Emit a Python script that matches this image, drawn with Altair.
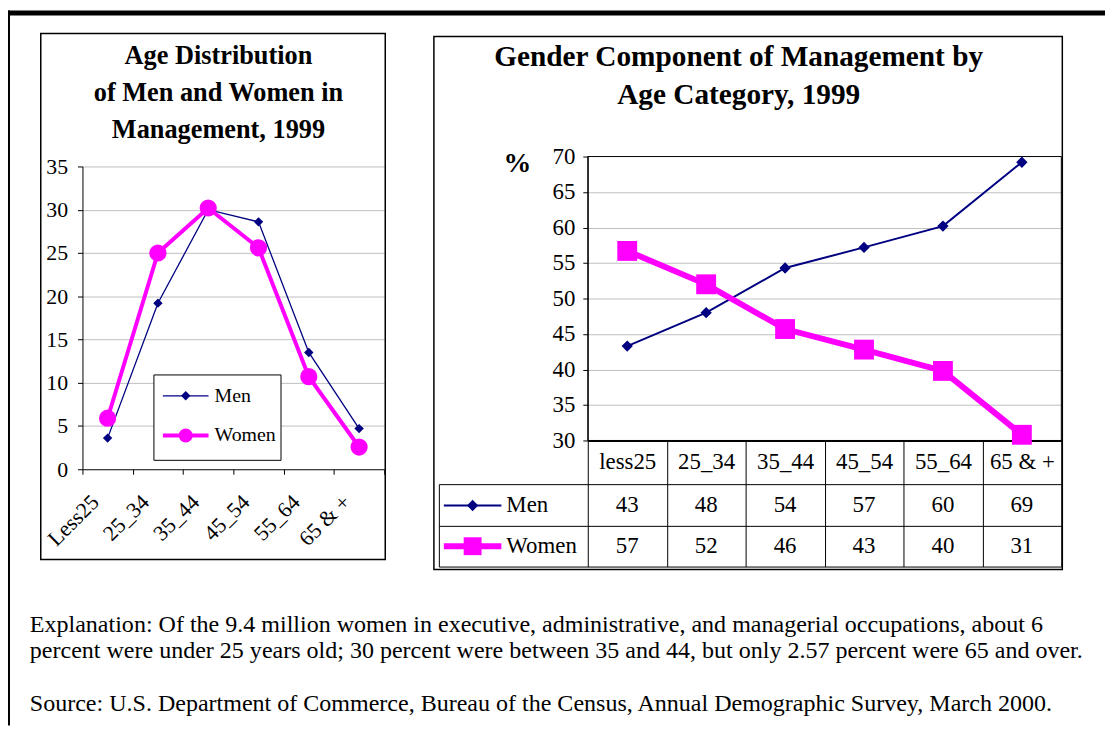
import altair as alt
import pandas as pd

# ---------------- data ----------------
left_cats = ["Less25", "25_34", "35_44", "45_54", "55_64", "65 & +"]
left_men = [3.6, 19.2, 30.0, 28.6, 13.5, 4.7]
left_women = [5.9, 25.0, 30.2, 25.6, 10.7, 2.57]
left_ticks = [0, 5, 10, 15, 20, 25, 30, 35]

right_cats = ["less25", "25_34", "35_44", "45_54", "55_64", "65 & +"]
right_men = [43.3, 48.0, 54.3, 57.2, 60.2, 69.2]
right_women = [56.7, 52.0, 45.7, 42.8, 39.8, 30.8]
right_ticks = [30, 35, 40, 45, 50, 55, 60, 65, 70]

series = ["Men", "Women"]
series_colors = ["#000080", "#FF00FF"]

left_title = ["Age Distribution", "of Men and Women in", "Management, 1999"]
right_title = ["Gender Component of Management by", "Age Category, 1999"]
y_unit = "%"
explanation = [
    "Explanation: Of the 9.4 million women in executive, administrative, and managerial occupations, about 6",
    "percent were under 25 years old; 30 percent were between 35 and 44, but only 2.57 percent were 65 and over.",
]
source = ["Source: U.S. Department of Commerce, Bureau of the Census, Annual Demographic Survey, March 2000."]

# ---------------- tables ----------------
n = len(left_cats)
left_df = pd.DataFrame({
    "series": ["Men"] * n + ["Women"] * n,
    "cat": left_cats * 2,
    "idx": list(range(n)) * 2,
    "value": left_men + left_women,
})
right_df = pd.DataFrame({
    "series": ["Men"] * n + ["Women"] * n,
    "cat": right_cats * 2,
    "idx": list(range(n)) * 2,
    "value": right_men + right_women,
})
ser_df = pd.DataFrame({"series": series})
one = pd.DataFrame({"k": [0]})
lt_df = pd.DataFrame({"v": left_ticks})
rt_df = pd.DataFrame({"v": right_ticks})

W, H = 1105, 720
SERIF = "Liberation Serif"
GRID = "#c0c0c0"


def lx():
    return alt.Scale(type="band", domain=left_cats, range=[75, 379], paddingInner=0, paddingOuter=0)


def ly():
    return alt.Scale(domain=[0, 35], range=[462, 157], nice=False, zero=False)


def rx():
    return alt.Scale(type="band", domain=right_cats, range=[584, 1061], paddingInner=0, paddingOuter=0)


def ry():
    return alt.Scale(domain=[30, 70], range=[433, 147], nice=False, zero=False)


def color():
    return alt.Color("series:N", scale=alt.Scale(domain=series, range=series_colors), legend=None)


def box(x1, x2, y1, y2, sw=1.5, fill=None):
    if fill:
        m = alt.Chart(one).mark_rect(fill=fill, stroke="black", strokeWidth=sw)
    else:
        m = alt.Chart(one).mark_rect(fillOpacity=0, stroke="black", strokeWidth=sw)
    return m.encode(x=alt.value(x1), x2=alt.value(x2), y=alt.value(y1), y2=alt.value(y2))


# ---------------- frame ----------------
top_bar = alt.Chart(one).mark_rect(color="black").encode(
    x=alt.value(0), x2=alt.value(W), y=alt.value(0), y2=alt.value(5))
left_bar = alt.Chart(one).mark_rect(color="black").encode(
    x=alt.value(0), x2=alt.value(2), y=alt.value(0), y2=alt.value(H))
left_box = box(33, 380, 23, 553, 1.5)
right_box = box(429, 1062, 26, 563, 1.5)

# ---------------- left chart ----------------
left_grid = alt.Chart(lt_df).mark_point(opacity=0).encode(
    y=alt.Y("v:Q", scale=ly(), axis=alt.Axis(
        orient="right", offset=75 - W, values=left_ticks[1:], tickSize=304,
        tickColor=GRID, tickWidth=1, labels=False, domain=False, grid=False, title=None)))

left_axis_x = alt.Axis(
    orient="bottom", offset=462 - H, tickBand="extent", tickSize=5, tickColor="black",
    domainColor="black", labelAngle=315, labelAlign="right", labelBaseline="middle",
    labelOffset=-13, labelPadding=24, labelFont=SERIF, labelFontSize=22,
    labelColor="black", grid=False, title=None, labelOverlap=False)
left_axis_y = alt.Axis(
    orient="left", offset=-75, values=left_ticks, tickSize=5, tickColor="black",
    domainColor="black", labelFont=SERIF, labelFontSize=22, labelColor="black",
    labelPadding=10, grid=False, title=None)

left_line = alt.Chart(left_df).mark_line().encode(
    x=alt.X("cat:N", scale=lx(), axis=left_axis_x),
    y=alt.Y("value:Q", scale=ly(), axis=left_axis_y),
    color=color(),
    strokeWidth=alt.StrokeWidth("series:N", scale=alt.Scale(domain=series, range=[1.3, 4]), legend=None),
    order=alt.Order("idx:Q"),
)
left_pts = alt.Chart(left_df).mark_point(filled=True, opacity=1).encode(
    x=alt.X("cat:N", scale=lx(), axis=None),
    y=alt.Y("value:Q", scale=ly(), axis=None),
    color=color(),
    shape=alt.Shape("series:N", scale=alt.Scale(domain=series, range=["diamond", "circle"]), legend=None),
    size=alt.Size("series:N", scale=alt.Scale(domain=series, range=[90, 300]), legend=None),
)

leg_y = alt.Y("series:N", scale=alt.Scale(type="point", domain=series, range=[388, 428], padding=0), axis=None)
leg_box = box(147, 275, 367, 453, 1, fill="white")
leg_line = alt.Chart(ser_df).mark_rule().encode(
    x=alt.value(156), x2=alt.value(202), y=leg_y, color=color(),
    strokeWidth=alt.StrokeWidth("series:N", scale=alt.Scale(domain=series, range=[1.3, 4]), legend=None))
leg_pts = alt.Chart(ser_df).mark_point(filled=True, opacity=1).encode(
    x=alt.value(179), y=leg_y, color=color(),
    shape=alt.Shape("series:N", scale=alt.Scale(domain=series, range=["diamond", "circle"]), legend=None),
    size=alt.Size("series:N", scale=alt.Scale(domain=series, range=[90, 200]), legend=None))
leg_text = alt.Chart(ser_df).mark_text(
    align="left", baseline="middle", font=SERIF, fontSize=20, color="black").encode(
    x=alt.value(208), y=leg_y, text="series:N")

left_title_mark = alt.Chart(one).mark_text(
    text=left_title, font=SERIF, fontSize=26.5, fontWeight="bold", align="center",
    baseline="alphabetic", lineHeight=37, color="black").encode(x=alt.value(212), y=alt.value(54))

# ---------------- right chart ----------------
right_grid = alt.Chart(rt_df).mark_point(opacity=0).encode(
    y=alt.Y("v:Q", scale=ry(), axis=alt.Axis(
        orient="right", offset=584 - W, values=right_ticks[1:-1], tickSize=477,
        tickColor=GRID, tickWidth=1, labels=False, domain=False, grid=False, title=None)))
plot_frame = box(584, 1061, 147, 433, 1)

right_axis_x = alt.Axis(
    orient="bottom", offset=433 - H, tickBand="extent", tickSize=127, tickColor="black",
    tickWidth=1, domainColor="black", domainWidth=2, labelAngle=0, labelAlign="center",
    labelBaseline="middle", labelPadding=-106, labelFont=SERIF, labelFontSize=23,
    labelColor="black", grid=False, title=None, labelOverlap=False)
right_axis_y = alt.Axis(
    orient="left", offset=-584, values=right_ticks, tickSize=5, tickColor="black",
    domainColor="black", labelFont=SERIF, labelFontSize=23, labelColor="black",
    labelPadding=8, grid=False, title=None)

right_line = alt.Chart(right_df).mark_line().encode(
    x=alt.X("cat:N", scale=rx(), axis=right_axis_x),
    y=alt.Y("value:Q", scale=ry(), axis=right_axis_y),
    color=color(),
    strokeWidth=alt.StrokeWidth("series:N", scale=alt.Scale(domain=series, range=[2, 6]), legend=None),
    order=alt.Order("idx:Q"),
)
right_pts = alt.Chart(right_df).mark_point(filled=True, opacity=1).encode(
    x=alt.X("cat:N", scale=rx(), axis=None),
    y=alt.Y("value:Q", scale=ry(), axis=None),
    color=color(),
    shape=alt.Shape("series:N", scale=alt.Scale(domain=series, range=["diamond", "square"]), legend=None),
    size=alt.Size("series:N", scale=alt.Scale(domain=series, range=[130, 400]), legend=None),
)

rows_axis = alt.Chart(ser_df).mark_point(opacity=0).encode(
    y=alt.Y("series:N", scale=alt.Scale(type="band", domain=series, range=[477, 560],
                                          paddingInner=0, paddingOuter=0),
            axis=alt.Axis(orient="right", offset=434 - W, tickBand="extent", tickSize=627,
                          tickColor="black", domainColor="black", labels=False,
                          grid=False, title=None)))
row_y = alt.Y("series:N", scale=alt.Scale(type="point", domain=series, range=[498.5, 539.5], padding=0), axis=None)
row_line = alt.Chart(ser_df).mark_rule().encode(
    x=alt.value(439), x2=alt.value(497), y=row_y, color=color(),
    strokeWidth=alt.StrokeWidth("series:N", scale=alt.Scale(domain=series, range=[2, 6]), legend=None))
row_pts = alt.Chart(ser_df).mark_point(filled=True, opacity=1).encode(
    x=alt.value(468), y=row_y, color=color(),
    shape=alt.Shape("series:N", scale=alt.Scale(domain=series, range=["diamond", "square"]), legend=None),
    size=alt.Size("series:N", scale=alt.Scale(domain=series, range=[130, 324]), legend=None))
row_text = alt.Chart(ser_df).mark_text(
    align="left", baseline="middle", font=SERIF, fontSize=23, color="black").encode(
    x=alt.value(502), y=row_y, text="series:N")
row_vals = alt.Chart(right_df).mark_text(
    align="center", baseline="middle", font=SERIF, fontSize=23, color="black").encode(
    x=alt.X("cat:N", scale=rx(), axis=None), y=row_y,
    text=alt.Text("value:Q", format=".0f"))

right_title_mark = alt.Chart(one).mark_text(
    text=right_title, font=SERIF, fontSize=29.5, fontWeight="bold", align="center",
    baseline="alphabetic", lineHeight=38, color="black").encode(x=alt.value(736), y=alt.value(56))
unit_mark = alt.Chart(one).mark_text(
    text=y_unit, font=SERIF, fontSize=28, fontWeight="bold", align="center",
    baseline="alphabetic", color="black").encode(x=alt.value(513), y=alt.value(163))

# ---------------- notes ----------------
expl_mark = alt.Chart(one).mark_text(
    text=explanation, font=SERIF, fontSize=24.2, align="left", baseline="alphabetic",
    lineHeight=26.5, color="black").encode(x=alt.value(22), y=alt.value(626))
src_mark = alt.Chart(one).mark_text(
    text=source, font=SERIF, fontSize=24.2, align="left", baseline="alphabetic",
    color="black").encode(x=alt.value(22), y=alt.value(705))

chart = alt.layer(
    top_bar, left_bar, left_box, right_box,
    left_grid, left_line, left_pts, leg_box, leg_line, leg_pts, leg_text, left_title_mark,
    right_grid, plot_frame, rows_axis, right_line, right_pts,
    row_line, row_pts, row_text, row_vals, right_title_mark, unit_mark,
    expl_mark, src_mark,
).resolve_scale(
    x="independent", y="independent", color="independent", shape="independent",
    size="independent", strokeWidth="independent",
).properties(
    width=W, height=H, padding=0, autosize=alt.AutoSizeParams(type="none"),
    background="white",
).configure_view(stroke=None)

chart.save("out.html", embed_options={"renderer": "svg", "actions": False})
